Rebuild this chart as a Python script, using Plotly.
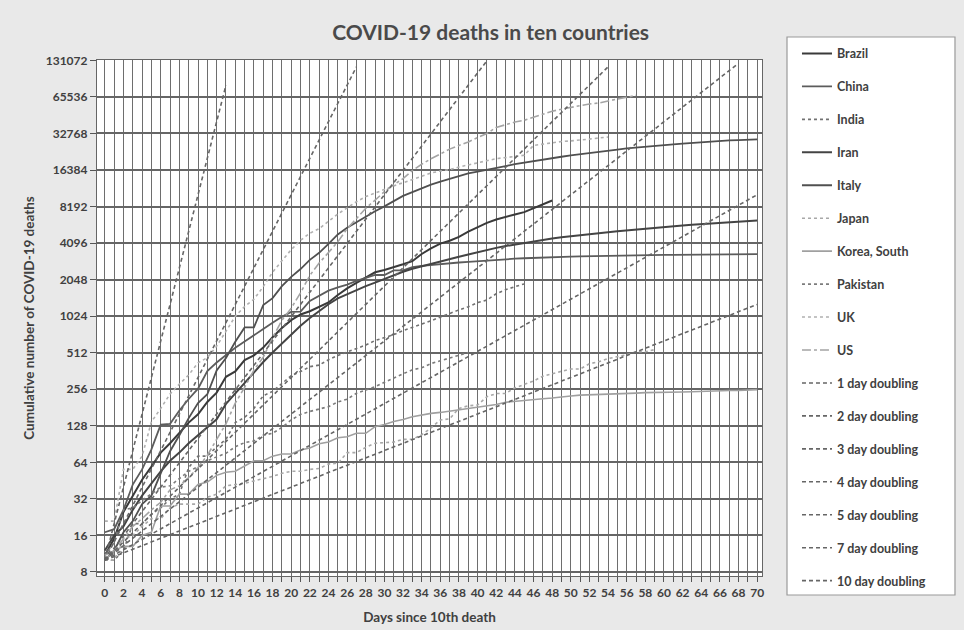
import math
import plotly.graph_objects as go

# ---------------- data ----------------
days_labels = [str(d) for d in range(0, 71, 2)]
y_tick_values = [8, 16, 32, 64, 128, 256, 512, 1024, 2048, 4096, 8192, 16384, 32768, 65536, 131072]
y_tick_labels = ["8", "16", "32", "64", "128", "256", "512", "1024", "2048", "4096", "8192",
                 "16384", "32768", "65536", "131072"]

brazil = [11, 15, 25, 34, 46, 59, 77, 92, 111, 136, 159, 201, 240, 324, 359, 445, 486, 564, 686, 819,
          950, 1057, 1124, 1223, 1328, 1532, 1736, 1924, 2141, 2354, 2462, 2587, 2741, 2906, 3331, 3704,
          4057, 4286, 4603, 5083, 5513, 6006, 6412, 6761, 7051, 7367, 7938, 8588, 9190]
china = [17, 18, 26, 42, 56, 82, 131, 133, 171, 213, 259, 361, 425, 490, 562, 632, 717, 804, 904, 1011,
         1111, 1116, 1368, 1520, 1662, 1765, 1863, 2002, 2114, 2236, 2236, 2441, 2443, 2593, 2663, 2715,
         2744, 2788, 2835, 2870, 2912, 2945, 2981, 3013, 3045, 3073, 3099, 3123, 3140, 3162, 3173, 3180,
         3194, 3204, 3218, 3231, 3242, 3250, 3253, 3259, 3274, 3274, 3281, 3285, 3291, 3296, 3299, 3304,
         3308, 3309, 3316]
india = [10, 10, 12, 20, 20, 24, 27, 32, 35, 58, 72, 72, 86, 99, 136, 150, 178, 226, 246, 288, 331, 358,
         393, 405, 448, 486, 521, 559, 592, 645, 681, 721, 780, 825, 881, 939, 1008, 1079, 1154, 1223,
         1323, 1391, 1566, 1693, 1785, 1889]
iran = [12, 16, 19, 26, 34, 43, 54, 66, 77, 92, 107, 124, 145, 194, 237, 291, 354, 429, 514, 611, 724,
        853, 988, 1135, 1284, 1433, 1556, 1685, 1812, 1934, 2077, 2234, 2378, 2517, 2640, 2757, 2898,
        3036, 3160, 3294, 3452, 3603, 3739, 3872, 3993, 4110, 4232, 4357, 4474, 4585, 4683, 4777, 4869,
        4958, 5031, 5118, 5209, 5297, 5391, 5481, 5574, 5650, 5710, 5806, 5877, 5957, 6028, 6091, 6156,
        6203, 6277]
italy = [10, 12, 17, 21, 29, 34, 52, 79, 107, 148, 197, 233, 366, 463, 631, 827, 827, 1266, 1441, 1809,
         2158, 2503, 2978, 3405, 4032, 4825, 5476, 6077, 6820, 7503, 8215, 9134, 10023, 10779, 11591,
         12428, 13155, 13915, 14681, 15362, 15887, 16523, 17127, 17669, 18279, 18849, 19468, 19899,
         20465, 21067, 21645, 22170, 22745, 23227, 23660, 24114, 24648, 25085, 25549, 25969, 26384,
         26644, 26977, 27359, 27682, 27967, 28236, 28710, 28884, 29079, 29315]
japan = [10, 10, 15, 16, 19, 22, 22, 27, 29, 29, 29, 33, 35, 41, 42, 43, 45, 47, 49, 52, 54, 54, 56, 57,
         62, 63, 77, 77, 85, 92, 93, 94, 99, 99, 108, 123, 143, 146, 178, 187, 190, 222, 236, 236, 263,
         281, 299, 328, 345, 360, 376, 376, 415, 432, 458, 472, 492, 521, 521, 543]
korea = [10, 12, 13, 13, 16, 17, 28, 28, 35, 35, 42, 44, 50, 53, 54, 60, 66, 66, 72, 75, 75, 81, 84, 91,
         94, 102, 104, 111, 111, 126, 131, 139, 144, 152, 158, 162, 165, 169, 174, 177, 183, 186, 192,
         200, 204, 208, 211, 214, 217, 222, 225, 229, 230, 232, 234, 236, 237, 238, 240, 240, 242, 243,
         243, 244, 246, 247, 248, 250, 250, 252, 254]
pakistan = [11, 14, 26, 27, 31, 35, 40, 41, 47, 54, 59, 66, 71, 76, 86, 93, 96, 107, 111, 124, 143, 159,
            168, 176, 184, 201, 212, 237, 253, 269, 292, 318, 343, 370, 385, 417, 440, 462, 486, 514]
uk = [21, 21, 56, 56, 72, 138, 178, 234, 282, 336, 423, 466, 580, 761, 1021, 1231, 1411, 1793, 2357,
      2926, 3611, 4320, 4943, 5385, 6171, 7111, 7993, 8974, 9892, 10629, 11347, 12107, 12868, 13729,
      14576, 15464, 16060, 16509, 17337, 18100, 18738, 19506, 20319, 20732, 21092, 21678, 26097, 26771,
      27510, 28131, 28446, 28734, 29427, 30076, 30615]
us = [11, 12, 15, 19, 22, 26, 30, 38, 41, 48, 58, 73, 99, 133, 197, 265, 368, 471, 680, 947, 1193, 1594,
      2220, 2806, 3420, 4192, 5367, 6501, 7921, 9246, 10855, 12375, 13894, 16191, 18270, 20255, 22333,
      24342, 26086, 27870, 30262, 32734, 36773, 38664, 40661, 42094, 44444, 46622, 49954, 51949, 53755,
      55413, 57359, 58355, 60967, 62996, 65068, 67444]

countries = ["Brazil", "China", "India", "Iran", "Italy", "Japan", "Korea, South", "Pakistan", "UK", "US"]
country_values = [brazil, china, india, iran, italy, japan, korea, pakistan, uk, us]

# doubling reference lines: start (day 0) and last plotted point
doubling_names = ["1 day doubling", "2 day doubling", "3 day doubling", "4 day doubling",
                  "5 day doubling", "7 day doubling", "10 day doubling"]
doubling_start_value = [10, 10, 10, 10, 10, 10, 10]
doubling_end_day = [13, 27, 41, 54, 68, 70, 70]
doubling_end_value = [81920, 115852, 130000, 115852, 124000, 10240, 1280]

# ---------------- styles ----------------
styles = {
    "Brazil": dict(color="#3a3a3a", width=2.0, dash="solid"),
    "China": dict(color="#5c5c5c", width=1.8, dash="solid"),
    "India": dict(color="#727272", width=1.6, dash="dot"),
    "Iran": dict(color="#444444", width=2.0, dash="solid"),
    "Italy": dict(color="#505050", width=1.8, dash="solid"),
    "Japan": dict(color="#a8a8a8", width=1.6, dash="dot"),
    "Korea, South": dict(color="#a0a0a0", width=1.6, dash="solid"),
    "Pakistan": dict(color="#7c7c7c", width=1.6, dash="dot"),
    "UK": dict(color="#b0b0b0", width=1.6, dash="dot"),
    "US": dict(color="#a4a4a4", width=1.6, dash="dashdot"),
}
dbl_style = dict(color="#666666", width=1.6, dash="4px,3px")

FONT = "Lato, 'Open Sans', sans-serif"
TXT = "#404040"

fig = go.Figure()
for i, (name, vals) in enumerate(zip(countries, country_values)):
    fig.add_trace(go.Scatter(
        x=list(range(len(vals))), y=vals, mode="lines", name=name,
        line=styles[name], legendgroup=f"g{i}", showlegend=True))

for j, name in enumerate(doubling_names):
    fig.add_trace(go.Scatter(
        x=[0, doubling_end_day[j]], y=[doubling_start_value[j], doubling_end_value[j]],
        mode="lines", name=name, line=dbl_style, legendgroup=f"d{j}"))

ymin = math.log10(2 ** 2.89)
ymax = math.log10(2 ** 17.01)

fig.update_layout(
    width=964, height=630,
    margin=dict(l=97, r=202, t=60, b=54),
    paper_bgcolor="#e9e9e9",
    plot_bgcolor="#ffffff",
    font=dict(family=FONT, color=TXT, size=11),
    title=dict(text="COVID-19 deaths in ten countries", x=0.509, xanchor="center",
               y=0.948, yanchor="middle",
               font=dict(size=21, color="#4a4a4a", family=FONT, weight="bold")),
    showlegend=True,
    legend=dict(x=1.0526, y=1.041, xanchor="left", yanchor="top", maxheight=620,
                bgcolor="rgba(0,0,0,0)", borderwidth=0, tracegroupgap=13.7,
                font=dict(size=12.5, color=TXT, family=FONT, weight="bold"), traceorder="grouped"),
    shapes=[dict(type="rect", xref="paper", yref="paper", x0=1.0376, x1=1.2902, y0=-0.0368, y1=1.0446,
                 line=dict(color="#9a9a9a", width=1.2), fillcolor="#ffffff", layer="below")],
)

fig.update_xaxes(
    automargin=False,
    range=[-0.84, 70.52], tickmode="array", tickvals=list(range(0, 71, 2)), ticktext=days_labels,
    showgrid=True, gridcolor="#6e6e6e", gridwidth=1.3,
    ticks="outside", ticklen=5, tickcolor="#555", tickwidth=1,
    minor=dict(dtick=1, tick0=0, showgrid=True, gridcolor="#6e6e6e", gridwidth=1.3,
               ticks="outside", ticklen=5, tickcolor="#555"),
    showline=True, linecolor="#666", linewidth=1.2, mirror=True, zeroline=False,
    tickfont=dict(size=12, color=TXT, family=FONT, weight="bold"),
    title=dict(text="Days since 10th death", font=dict(size=13.5, color=TXT, family=FONT, weight="bold"),
               standoff=14),
)
fig.update_yaxes(
    automargin=False,
    type="log", range=[ymin, ymax], tickmode="array", tickvals=y_tick_values, ticktext=y_tick_labels,
    showgrid=True, gridcolor="#666666", gridwidth=1.6,
    ticks="outside", ticklen=6, tickcolor="#555", tickwidth=1,
    showline=True, linecolor="#666", linewidth=1.2, mirror=True, zeroline=False,
    tickfont=dict(size=12, color=TXT, family=FONT, weight="bold"),
    title=dict(text="Cumulative number of COVID-19 deaths",
               font=dict(size=13.5, color=TXT, family=FONT, weight="bold"), standoff=8),
)

fig.write_html("out.html", config={"displayModeBar": False},
               post_script="document.body.style.margin='0';document.body.style.overflow='hidden';"
                           "document.body.style.background='#e9e9e9';")
